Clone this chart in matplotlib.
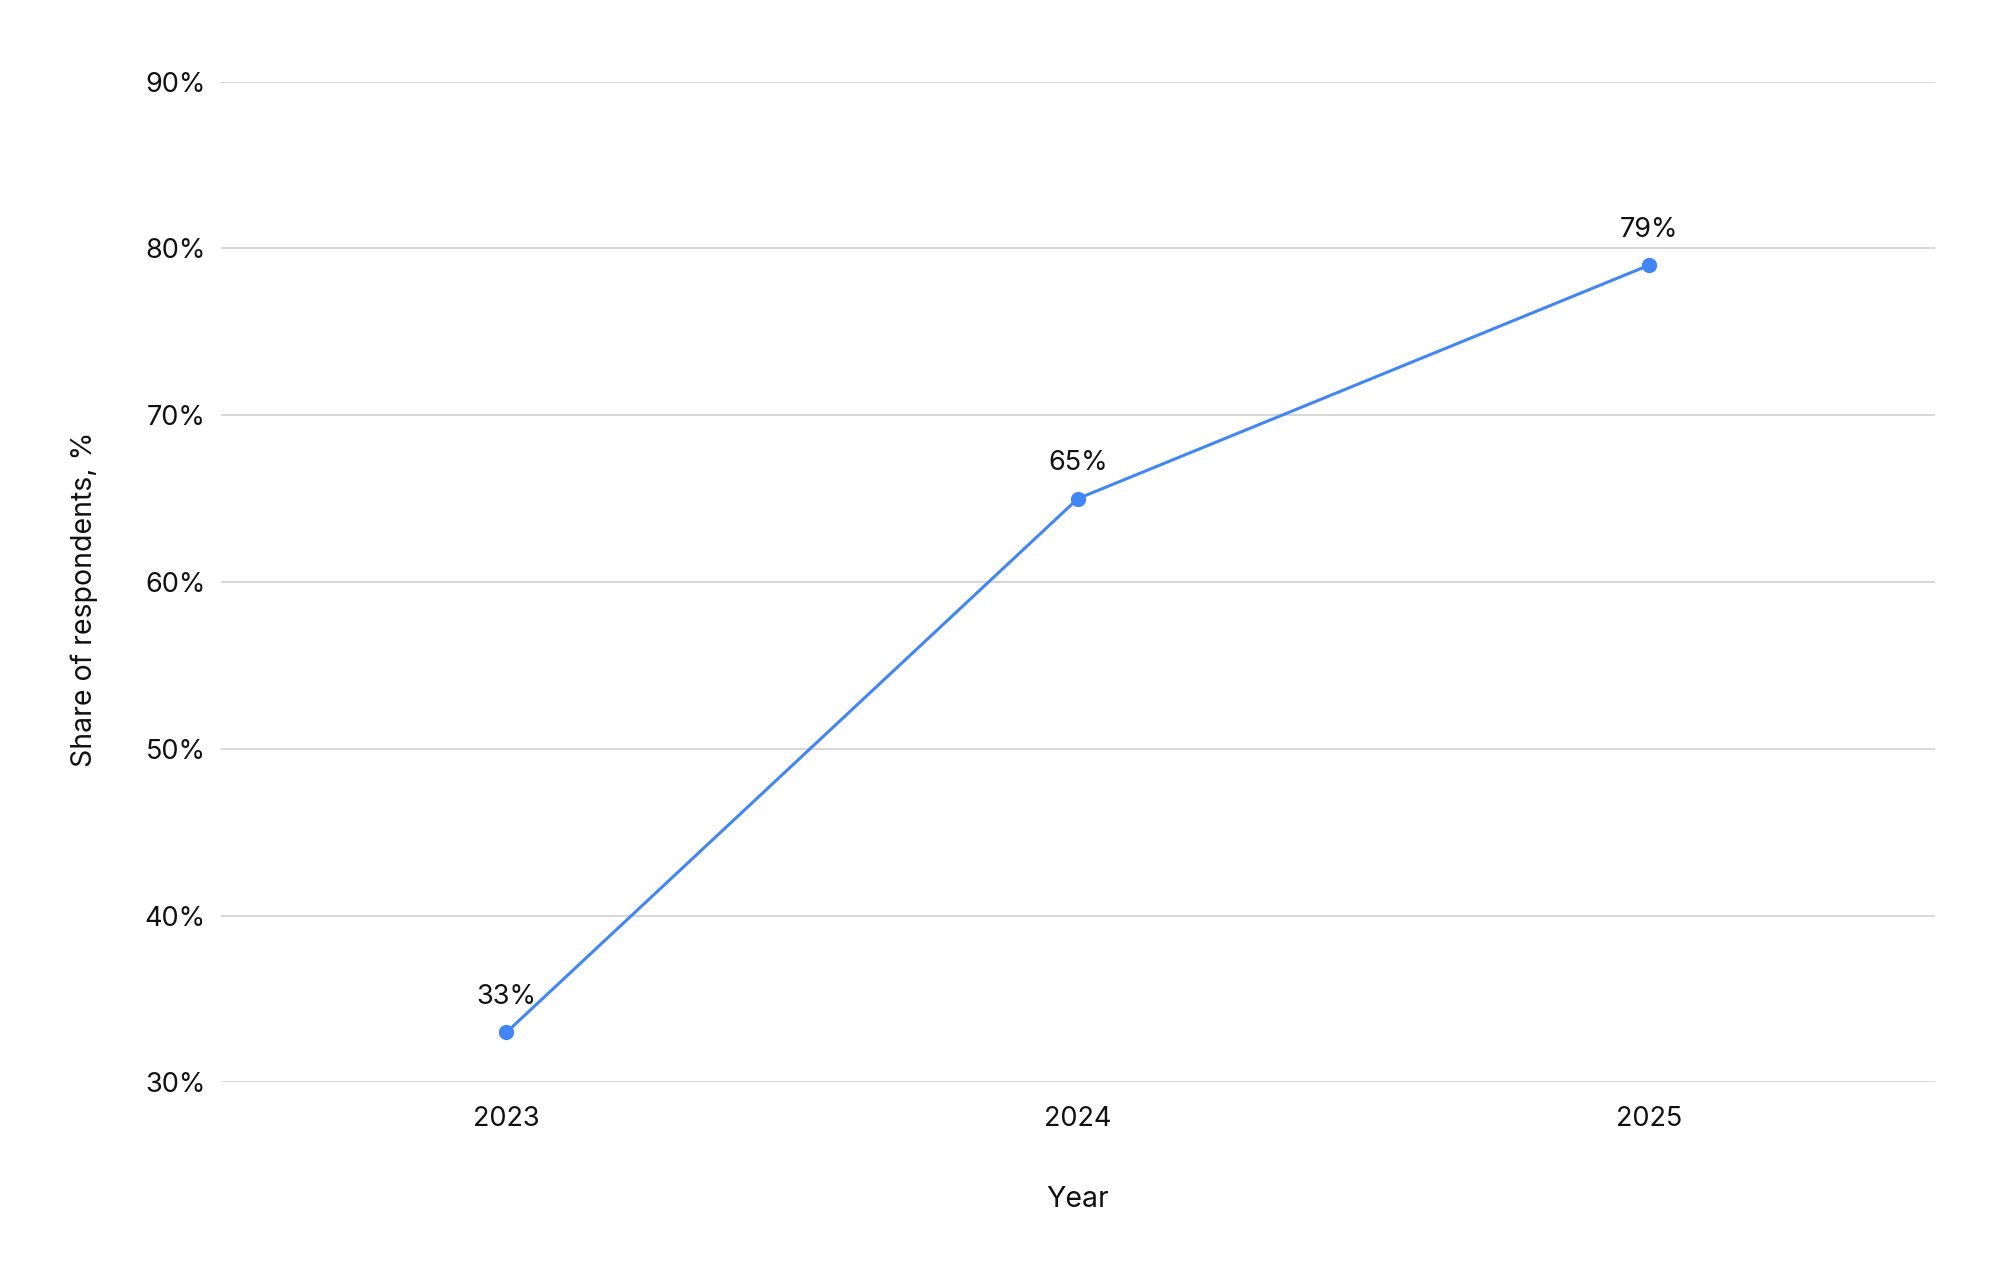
import matplotlib
matplotlib.use("Agg")
import matplotlib.pyplot as plt
from matplotlib.ticker import FixedLocator, FuncFormatter

years = [2023, 2024, 2025]
share = [33, 65, 79]
y_ticks = [30, 40, 50, 60, 70, 80, 90]

plt.rcParams['font.family'] = ['Inter', 'DejaVu Sans']

fig = plt.figure(figsize=(19.99, 12.81), dpi=100)
ax = fig.add_axes([0.1104, 0.155, 0.968 - 0.1104, 0.9363 - 0.155])

line_color = '#4285F4'
ax.plot(years, share, color=line_color, lw=2.2, marker='o', markersize=10, zorder=3)
for x, y in zip(years, share):
    ax.annotate(f"{y}%", (x, y), xytext=(0, 16), textcoords='offset points',
                ha='center', va='bottom', fontsize=19.5, color='#111111')

ax.set_xlim(2022.5, 2025.5)
ax.set_ylim(30, 90)
ax.xaxis.set_major_locator(FixedLocator(years))
ax.set_xticklabels([str(y) for y in years])
ax.yaxis.set_major_locator(FixedLocator(y_ticks))
ax.yaxis.set_major_formatter(FuncFormatter(lambda v, p: f"{int(v)}%"))

for s in ax.spines.values():
    s.set_visible(False)
ax.grid(axis='y', color='#d4d4d4', lw=1.3)
ax.set_axisbelow(True)
ax.tick_params(axis='both', length=0, labelsize=19.5, colors='#111111')
ax.tick_params(axis='y', pad=11)
ax.tick_params(axis='x', pad=17)

ax.set_xlabel('Year', fontsize=20.5, color='#111111', labelpad=39)
ax.set_ylabel('Share of respondents, %', fontsize=20.5, color='#111111', labelpad=33, y=0.483)

fig.savefig('out.png', dpi=100, facecolor='white')
